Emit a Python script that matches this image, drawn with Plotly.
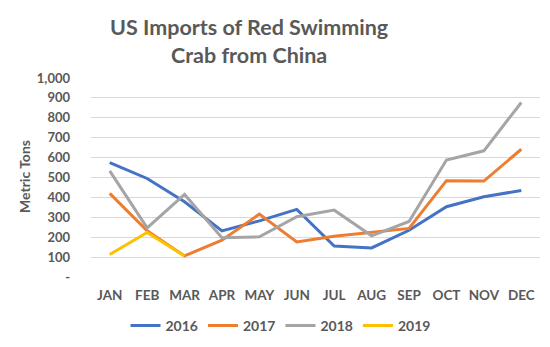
import plotly.graph_objects as go

months = ["JAN", "FEB", "MAR", "APR", "MAY", "JUN", "JUL", "AUG", "SEP", "OCT", "NOV", "DEC"]
y2016 = [575, 495, 378, 232, 282, 340, 156, 146, 235, 353, 403, 435]
y2017 = [420, 232, 106, 185, 316, 176, 205, 224, 244, 484, 482, 642]
y2018 = [533, 247, 415, 197, 202, 303, 336, 207, 279, 588, 634, 877]
y2019 = [113, 224, 106]
tick_vals = [0, 100, 200, 300, 400, 500, 600, 700, 800, 900, 1000]
tick_text = ["-", "100", "200", "300", "400", "500", "600", "700", "800", "900", "1,000"]
title_lines = ["US Imports of Red Swimming", "Crab from China"]
y_title = "Metric Tons"

series = [
    ("2016", y2016, "#4472C4"),
    ("2017", y2017, "#ED7D31"),
    ("2018", y2018, "#A5A5A5"),
    ("2019", y2019, "#FFC000"),
]

W, H = 550, 347
ML, MR, MT, MB = 91, 10, 78, 70
PH = H - MT - MB
PW = W - ML - MR

fig = go.Figure()
for name, vals, color in series:
    fig.add_trace(go.Scatter(
        x=months[:len(vals)], y=vals, name=name, mode="lines",
        line=dict(color=color, width=3),
    ))

font_fam = "Lato, 'Open Sans', sans-serif"
grey = "#595959"

# title lines as annotations
for text, yc in zip(title_lines, [27, 55]):
    fig.add_annotation(
        text=text, xref="paper", yref="paper",
        x=(249 - ML) / PW, y=1 + (MT - yc) / PH,
        xanchor="center", yanchor="middle", showarrow=False,
        font=dict(size=21.5, color=grey, family=font_fam, weight="bold"),
    )

# y-axis title
fig.add_annotation(
    text=y_title, xref="paper", yref="paper",
    x=(24 - ML) / PW, y=(H - MB - 177) / PH,
    xanchor="center", yanchor="middle", textangle=-90, showarrow=False,
    font=dict(size=14, color=grey, family=font_fam, weight="bold"),
)

fig.update_layout(
    width=W, height=H,
    margin=dict(l=ML, r=MR, t=MT, b=MB, autoexpand=False),
    paper_bgcolor="white", plot_bgcolor="white",
    font=dict(family=font_fam, color=grey),
    showlegend=True,
    legend=dict(
        orientation="h", x=0.51, xref="container", xanchor="center",
        y=(H - 326) / H, yref="container", yanchor="middle",
        font=dict(size=14, color=grey, family=font_fam, weight="bold"),
        traceorder="normal",
    ),
    xaxis=dict(
        type="category", categoryorder="array", categoryarray=months,
        range=[-0.5, 11.5], showgrid=False, showline=False, zeroline=False,
        ticks="", automargin=False,
        tickfont=dict(size=13.5, color=grey, family=font_fam, weight="bold"),
        ticklabelstandoff=8,
    ),
    yaxis=dict(
        range=[0, 1000], tickvals=tick_vals, ticktext=tick_text,
        showgrid=True, gridcolor="#D9D9D9", gridwidth=1, zeroline=False,
        showline=False, ticks="", automargin=False,
        tickfont=dict(size=13, color=grey, family=font_fam, weight="bold"),
        ticklabelstandoff=20,
    ),
)

fig.write_html("out.html")
